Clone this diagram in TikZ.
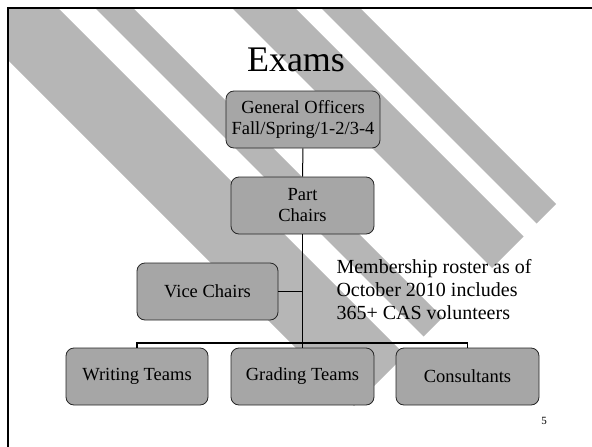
\documentclass[tikz,border=0pt]{standalone}
\usepackage{fontspec}
\setmainfont{Liberation Serif}

\definecolor{boxgray}{RGB}{166,166,166}
\definecolor{stripegray}{RGB}{182,182,182}

\tikzset{
	orgbox/.style={rectangle,rounded corners=8pt,draw=black!85,fill=boxgray,line width=0.8pt,minimum height=57pt,align=center,inner sep=2pt,font=\fontsize{18.5}{21}\selectfont},
	orgline/.style={line width=1.8pt}
}

\begin{document}
\begin{tikzpicture}[x=1pt,y=-1pt]
			\useasboundingbox (0,0) rectangle (592,447);
			% diagonal stripes of the slide
			\begin{scope}
				\clip (8,8) rectangle (592,447);
				\foreach \lo/\hi in {-52/50, 87/125, 224/287, 313/352}
					\fill[stripegray] (\lo,0) -- (\hi,0) -- ({(760+\hi)/2},{(760-\hi)/2}) -- ({(760+\lo)/2},{(760-\lo)/2}) -- cycle;
			\end{scope}
			\draw[line width=2.5pt] (8,447) -- (8,8) -- (592,8);
			\draw (296,60) node (title) {\fontsize{36}{40}\selectfont Exams};
			\draw (303,119.5) node [orgbox,minimum width=154pt] (gen) {General Officers\\Fall/Spring/1-2/3-4};
			\draw (302.5,205.5) node [orgbox,minimum width=143pt] (part) {Part\\Chairs};
			\draw (207.5,291.5) node [orgbox,minimum width=141pt] (vice) {Vice Chairs};
			\draw (137,376.5) node [orgbox,minimum width=142pt] (writing) {Writing Teams};
			\draw (302.5,376.5) node [orgbox,minimum width=143pt] (grading) {Grading Teams};
			\draw (467.5,376.5) node [orgbox,minimum width=143pt] (consult) {Consultants};
			\draw (333,290) node [right,align=left,font=\fontsize{20}{23}\selectfont] (roster) {Membership roster as of\\October 2010 includes\\365+ CAS volunteers};
			\draw (544,421) node (pagenum) {\fontsize{11}{13}\selectfont 5};
			\coordinate (bus) at (302.5,343);
			\draw[line width=1pt] (gen) -- (part);
			\draw[orgline] (part.south) -- (grading.north);
			\draw[orgline] (vice.east) -- (vice.east -| part.south);
			\draw[orgline] (writing.north) -- (writing.north |- bus) -- (consult.north |- bus) -- (consult.north);
		\end{tikzpicture}
\end{document}
